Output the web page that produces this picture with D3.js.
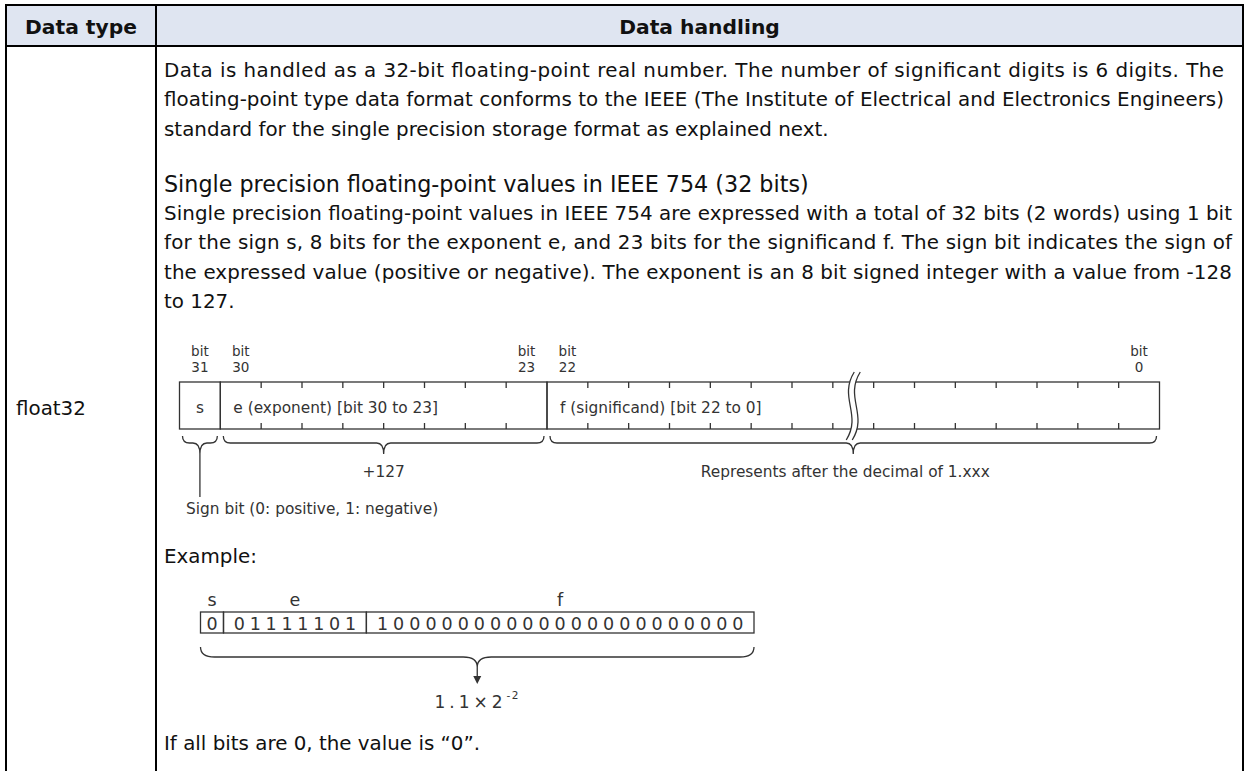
<!DOCTYPE html>
<html>
<head>
<meta charset="utf-8">
<script src="https://cdn.jsdelivr.net/npm/d3@7"></script>
<style>
  body { margin: 0; background: #fff; }
</style>
</head>
<body>
<div id="chart"></div>
<script>
////////////////////////////////////////////////////////////////////
////////////////////////////  Data  ////////////////////////////////
const headers = ["Data type", "Data handling"];
const dataType = "float32";

const introLines = [
  "Data is handled as a 32-bit floating-point real number. The number of significant digits is 6 digits. The",
  "floating-point type data format conforms to the IEEE (The Institute of Electrical and Electronics Engineers)",
  "standard for the single precision storage format as explained next."
];
const heading = "Single precision floating-point values in IEEE 754 (32 bits)";
const ieeeLines = [
  "Single precision floating-point values in IEEE 754 are expressed with a total of 32 bits (2 words) using 1 bit",
  "for the sign s, 8 bits for the exponent e, and 23 bits for the significand f. The sign bit indicates the sign of",
  "the expressed value (positive or negative). The exponent is an 8 bit signed integer with a value from -128",
  "to 127."
];

// bit layout diagram
const fieldLabels = ["s", "e (exponent) [bit 30 to 23]", "f (significand) [bit 22 to 0]"];
const fieldCells = [1, 8, 15];
const markerCells = [0, 1, 8, 9, 23];
const markerBits = ["31", "30", "23", "22", "0"];
const breakCell = 16;
const braceNotes = ["", "+127", "Represents after the decimal of 1.xxx"];
const signNote = "Sign bit (0: positive, 1: negative)";

// example
const exampleTitle = "Example:";
const exampleNames = ["s", "e", "f"];
const exampleBits = ["0", "01111101", "10000000000000000000000"];
const resultBase = "1.1×2";
const resultExp = "-2";
const zeroNote = "If all bits are 0, the value is \u201c0\u201d.";

////////////////////////////////////////////////////////////////////
////////////////////////////  Init  ////////////////////////////////
const width = 1247;
const height = 771;
const tbl = { left: 6, right: 1243, top: 5, head: 46, split: 156 };
const textX = 164;
const lineStep = 29.5;
const ink = "#111";
const grey = "#333";

const svg = d3
  .select("#chart")
  .append("svg")
  .attr("width", width)
  .attr("height", height)
  .style("font-family", "'DejaVu Sans', Verdana, sans-serif");

// text measuring
const probe = svg.append("text").attr("x", -2000).attr("y", -2000);
function measure(str, size, weight = "normal") {
  probe.attr("font-size", size).attr("font-weight", weight).text(str);
  return probe.node().getComputedTextLength();
}
const widest = d3.max(
  [...introLines.slice(0, -1), ...ieeeLines.slice(0, -1)],
  (l) => measure(l, 100)
);
const bodySize = (100 * 1062) / widest;
const headSize = (100 * 112) / measure(headers[0], 100, "bold");
const diagSize = (100 * 205) / measure(fieldLabels[1], 100);
probe.remove();

function addText(g, str, x, y, size, anchor = "start", fill = ink) {
  return g
    .append("text")
    .attr("x", x)
    .attr("y", y)
    .attr("font-size", size)
    .attr("text-anchor", anchor)
    .attr("dominant-baseline", "central")
    .attr("fill", fill)
    .text(str);
}

////////////////////////////////////////////////////////////////////
////////////////////////////  Table  ///////////////////////////////
svg
  .append("rect")
  .attr("x", tbl.left)
  .attr("y", tbl.top)
  .attr("width", tbl.right - tbl.left)
  .attr("height", tbl.head - tbl.top)
  .attr("fill", "#dfe5f1");

const rules = [
  [tbl.left, tbl.top, tbl.right, tbl.top],
  [tbl.left, tbl.head, tbl.right, tbl.head],
  [tbl.left, tbl.top, tbl.left, height],
  [tbl.split, tbl.top, tbl.split, height],
  [tbl.right, tbl.top, tbl.right, height]
];
svg
  .selectAll(".rule")
  .data(rules)
  .enter()
  .append("line")
  .attr("class", "rule")
  .attr("x1", (d) => d[0])
  .attr("y1", (d) => d[1])
  .attr("x2", (d) => d[2])
  .attr("y2", (d) => d[3])
  .attr("stroke", "#000")
  .attr("stroke-width", 2)
  .attr("stroke-linecap", "square");

const headY = (tbl.top + tbl.head) / 2 + 1;
addText(svg, headers[0], (tbl.left + tbl.split) / 2, headY, headSize, "middle").attr("font-weight", "bold");
addText(svg, headers[1], (tbl.split + tbl.right) / 2, headY, headSize, "middle").attr("font-weight", "bold");

addText(svg, dataType, 16, 408, bodySize);

////////////////////////////////////////////////////////////////////
////////////////////////////  Paragraphs  //////////////////////////
const introY = 70;
introLines.forEach((l, i) => {
  const t = addText(svg, l, textX, introY + i * lineStep, bodySize);
  if (i < introLines.length - 1) t.attr("textLength", 1060).attr("lengthAdjust", "spacing");
});

const headingY = introY + (introLines.length - 1) * lineStep + lineStep * 1.86;
addText(svg, heading, textX, headingY, bodySize * 1.12);

ieeeLines.forEach((l, i) => {
  const t = addText(svg, l, textX, headingY + lineStep + i * lineStep, bodySize);
  if (i < ieeeLines.length - 1) t.attr("textLength", 1232 - textX).attr("lengthAdjust", "spacing");
});

////////////////////////////////////////////////////////////////////
////////////////////////////  Bit diagram  /////////////////////////
const diag = svg.append("g").attr("fill", "none");
const nCells = d3.sum(fieldCells);
const fieldStart = [0, ...d3.cumsum(fieldCells)];
const bx = d3.scaleLinear().domain([0, nCells]).range([179.5, 1159.5]);
const box = { top: 382, bottom: 429 };
const tickLen = 6;

// bit numbers above
markerCells.forEach((c, i) => {
  const cx = bx(c + 0.5);
  addText(diag, "bit", cx, 351, diagSize * 0.88, "middle", grey);
  addText(diag, markerBits[i], cx, 367, diagSize * 0.88, "middle", grey);
});

// ticks
const tickCells = d3.range(1, nCells).filter((c) => !fieldStart.includes(c));
tickCells.forEach((c) => {
  diag.append("line").attr("x1", bx(c)).attr("x2", bx(c))
    .attr("y1", box.top).attr("y2", box.top + tickLen)
    .attr("stroke", grey).attr("stroke-width", 1.3);
  diag.append("line").attr("x1", bx(c)).attr("x2", bx(c))
    .attr("y1", box.bottom - tickLen).attr("y2", box.bottom)
    .attr("stroke", grey).attr("stroke-width", 1.3);
});

// field boxes
fieldCells.forEach((n, i) => {
  diag
    .append("rect")
    .attr("x", bx(fieldStart[i]))
    .attr("y", box.top)
    .attr("width", bx(fieldStart[i + 1]) - bx(fieldStart[i]))
    .attr("height", box.bottom - box.top)
    .attr("stroke", grey)
    .attr("stroke-width", 1.3);
});

// field labels
const boxMid = (box.top + box.bottom) / 2 + 2;
fieldLabels.forEach((l, i) => {
  if (fieldCells[i] === 1) addText(diag, l, bx(fieldStart[i] + 0.5), boxMid, diagSize, "middle", grey);
  else addText(diag, l, bx(fieldStart[i]) + 13, boxMid, diagSize, "start", grey);
});

// break mark
const bcx = bx(breakCell + 0.5);
const bTop = 372;
const bBot = 440;
const bh = bBot - bTop;
const gap = 3;
const sCurve = (dx) =>
  `M${bcx + dx + 4},${bTop} C${bcx + dx - 12},${bTop + bh * 0.38} ${bcx + dx + 12},${bTop + bh * 0.62} ${bcx + dx - 4},${bBot}`;
diag
  .append("path")
  .attr("d",
    `M${bcx - gap + 4},${bTop} C${bcx - gap - 12},${bTop + bh * 0.38} ${bcx - gap + 12},${bTop + bh * 0.62} ${bcx - gap - 4},${bBot}` +
    ` L${bcx + gap - 4},${bBot} C${bcx + gap + 12},${bTop + bh * 0.62} ${bcx + gap - 12},${bTop + bh * 0.38} ${bcx + gap + 4},${bTop} Z`)
  .attr("fill", "#fff");
[-gap, gap].forEach((dx) =>
  diag.append("path").attr("d", sCurve(dx)).attr("stroke", grey).attr("stroke-width", 1.3)
);

// braces
function bracePath(x0, x1, y0, ym, yt, r) {
  const xm = (x0 + x1) / 2;
  return `M${x0},${y0} Q${x0},${ym} ${x0 + r},${ym} L${xm - r},${ym} Q${xm},${ym} ${xm},${yt}` +
    ` Q${xm},${ym} ${xm + r},${ym} L${x1 - r},${ym} Q${x1},${ym} ${x1},${y0}`;
}
fieldCells.forEach((n, i) => {
  const x0 = bx(fieldStart[i]) + 3;
  const x1 = bx(fieldStart[i + 1]) - 3;
  diag.append("path").attr("d", bracePath(x0, x1, 436, 443, 454, 7))
    .attr("stroke", grey).attr("stroke-width", 1.3);
  if (braceNotes[i]) addText(diag, braceNotes[i], (x0 + x1) / 2 - (i === 2 ? 8 : 0), 472, diagSize, "middle", grey);
});

// sign bit pointer
diag.append("line").attr("x1", bx(0.5)).attr("x2", bx(0.5)).attr("y1", 454).attr("y2", 497)
  .attr("stroke", grey).attr("stroke-width", 1.3);
addText(diag, signNote, 186, 509, diagSize, "start", grey);

////////////////////////////////////////////////////////////////////
////////////////////////////  Example  /////////////////////////////
addText(svg, exampleTitle, textX, 556, bodySize);

const ex = svg.append("g").attr("fill", "none");
const exUnits = [1.4, 8.7, 23.6];
const exStart = [0, ...d3.cumsum(exUnits)];
const exX = d3.scaleLinear().domain([0, d3.sum(exUnits)]).range([200.5, 754]);
const exBox = { top: 612, bottom: 633 };
const exSize = 17.5;

exampleBits.forEach((bits, i) => {
  const x0 = exX(exStart[i]);
  const x1 = exX(exStart[i + 1]);
  ex.append("rect").attr("x", x0).attr("y", exBox.top)
    .attr("width", x1 - x0).attr("height", exBox.bottom - exBox.top)
    .attr("stroke", grey).attr("stroke-width", 1.3);
  addText(ex, exampleNames[i], (x0 + x1) / 2, 600, exSize, "middle", grey);
  const px = d3.scalePoint().domain(d3.range(bits.length)).range([x0, x1]).padding(1);
  bits.split("").forEach((b, j) =>
    addText(ex, b, px(j), (exBox.top + exBox.bottom) / 2 + 1, exSize, "middle", grey)
  );
});

const exMid = (exX(0) + exX(d3.sum(exUnits))) / 2;
ex.append("path").attr("d", bracePath(exX(0), exX(d3.sum(exUnits)), 647, 657, 667, 14))
  .attr("stroke", grey).attr("stroke-width", 1.3);
ex.append("line").attr("x1", exMid).attr("x2", exMid).attr("y1", 667).attr("y2", 677)
  .attr("stroke", grey).attr("stroke-width", 1.3);
ex.append("path").attr("d", `M${exMid - 4},${676} L${exMid + 4},${676} L${exMid},${684} Z`)
  .attr("fill", grey);

const result = addText(ex, "", exMid, 702, 17, "middle", grey).attr("letter-spacing", 4);
result.append("tspan").text(resultBase);
result.append("tspan").attr("dy", -7).attr("font-size", 10.5).attr("letter-spacing", 1.5).text(resultExp);

addText(svg, zeroNote, textX, 743, bodySize);
</script>
</body>
</html>
